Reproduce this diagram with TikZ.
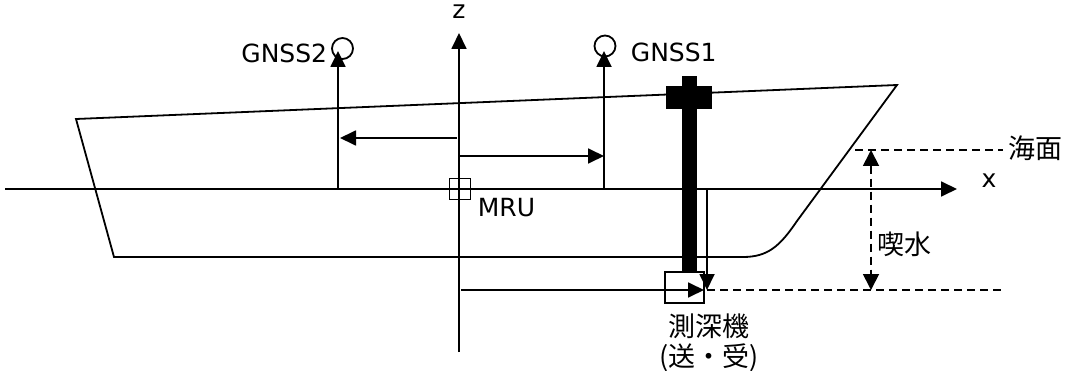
\documentclass[tikz,border=0pt]{standalone}
\usepackage{fontspec}
\setmainfont{DejaVu Sans}
\newfontfamily\cjk{Noto Sans CJK JP}
\usetikzlibrary{arrows.meta}

\begin{document}
\begin{tikzpicture}[x=1pt, y=-1pt, line width=1.8pt,
        tip/.style={-{Triangle[length=16pt, width=15pt]}},
        twotip/.style={{Triangle[length=16pt, width=16pt]}-{Triangle[length=16pt, width=16pt]}},
        lbl/.style={font=\fontsize{25}{30}\selectfont, inner sep=0pt},
        jlbl/.style={font=\cjk\fontsize{27}{30}\selectfont, inner sep=0pt},
        dash line/.style={dash pattern=on 8pt off 5pt}]
        \useasboundingbox (0, 0) rectangle (1070, 371);

        % Hull
        \draw (76, 119) -- (897, 85) -- (797, 221)
            .. controls (780, 246) and (768, 257) .. (743, 257) -- (114, 257) -- cycle;

        % Mast
        \fill (682, 76) rectangle (697, 272);
        \fill (666, 86) rectangle (712, 109);

        % Nodes
        \node (mru) [draw, minimum size=21pt, inner sep=0pt] at (460, 189) {};
        \node (g2) [circle, draw, minimum size=21pt, inner sep=0pt] at (342.5, 48.5) {};
        \node (g1) [circle, draw, minimum size=21pt, inner sep=0pt] at (605, 46) {};
        \node (tx) [draw, minimum width=39pt, minimum height=31pt, inner sep=0pt] at (684.5, 287.5) {};

        \coordinate (x0) at (5, 189);
        \coordinate (x1) at (957, 189);
        \coordinate (z0) at (459, 352);
        \coordinate (z1) at (459, 33);
        \coordinate (g2b) at (338, 189);
        \coordinate (g2t) at (338, 51);
        \coordinate (g1b) at (604, 189);
        \coordinate (g1t) at (604, 51);
        \coordinate (o2a) at (457, 138);
        \coordinate (o2b) at (340, 138);
        \coordinate (o1a) at (460, 156);
        \coordinate (o1b) at (604, 156);
        \coordinate (dza) at (461, 290);
        \coordinate (dzb) at (704, 290);
        \coordinate (dva) at (707, 190);
        \coordinate (dvb) at (707, 290);
        \coordinate (bot) at (1005, 290);
        \coordinate (sea0) at (855, 150);
        \coordinate (sea1) at (1003, 150);
        \coordinate (dr0) at (871, 150);
        \coordinate (dr1) at (871, 290);

        % Labels
        \node (zl) [lbl] at (459, 12) {z};
        \node (xl) [lbl] at (989, 181) {x};
        \node (mrul) [lbl, anchor=west] at (477, 208) {MRU};
        \node (g2l) [lbl, anchor=east] at (328, 53) {GNSS2};
        \node (g1l) [lbl, anchor=west] at (630, 52) {GNSS1};
        \node (seal) [jlbl, anchor=west] at (1008, 148) {海面};
        \node (drl) [jlbl, anchor=west] at (877, 244) {喫水};
        \node (txl) [jlbl, align=center] at (709, 343) {測深機\\(送・受)};

        % Edges
        \draw[tip] (x0) -- (x1);
        \draw[tip] (z0) -- (z1);
        \draw[tip] (g2b) -- (g2t);
        \draw[tip] (g1b) -- (g1t);
        \draw[tip] (o2a) -- (o2b);
        \draw[tip] (o1a) -- (o1b);
        \draw[tip] (dza) -- (dzb);
        \draw[tip] (dva) -- (dvb);
        \draw[dash line] (dvb) -- (bot);
        \draw[dash line] (sea0) -- (sea1);
        \draw[dash line, twotip] (dr0) -- (dr1);
\end{tikzpicture}
\end{document}
